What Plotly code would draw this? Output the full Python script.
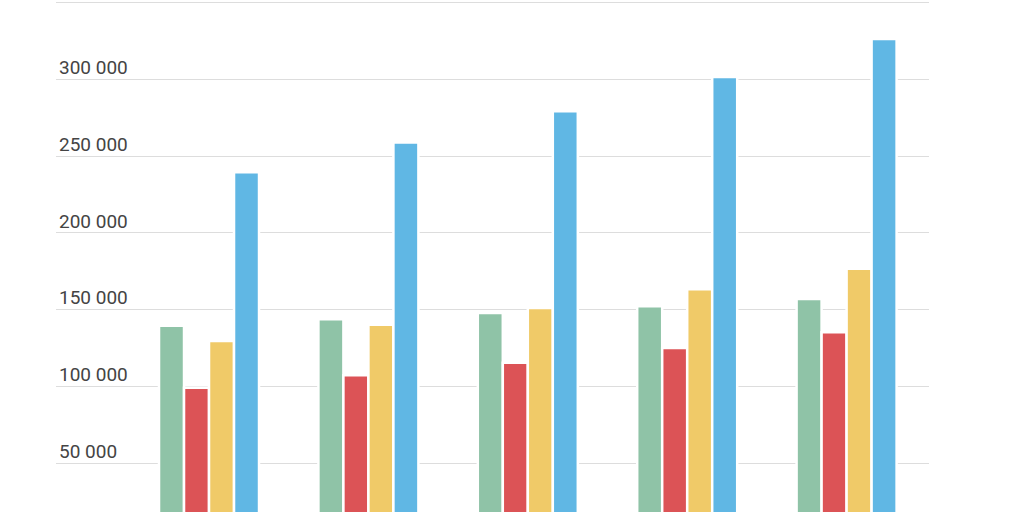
import plotly.graph_objects as go

categories = ["2019", "2020", "2021", "2022", "2023"]
series_a = [139700, 143800, 148000, 152300, 157000]
series_b = [99300, 107400, 115600, 125200, 135400]
series_c = [129700, 140300, 151200, 163400, 176800]
series_d = [239500, 258800, 279200, 301500, 326200]
series_names = ["A", "B", "C", "D"]
colors = ["#8FC3A7", "#DC5356", "#F0CA68", "#60B7E4"]
tick_vals = [50000, 100000, 150000, 200000, 250000, 300000, 350000]
tick_text = ["50 000", "100 000", "150 000", "200 000", "250 000", "300 000", "350 000"]

fig = go.Figure()
for name, vals, col in zip(series_names, [series_a, series_b, series_c, series_d], colors):
    fig.add_trace(go.Bar(
        x=categories, y=vals, name=name,
        marker=dict(color=col, line=dict(color="white", width=2.5)),
    ))

fig.update_layout(
    width=1024, height=512,
    margin=dict(l=56, r=95, t=0, b=0, autoexpand=False),
    barmode="group", bargap=0.3726, bargroupgap=0,
    plot_bgcolor="white", paper_bgcolor="white",
    showlegend=False,
    font=dict(family="Roboto", size=19, color="#4a4a4a"),
    xaxis=dict(
        type="category", range=[-0.96, 4.517], automargin=False,
        showticklabels=False, showgrid=False, zeroline=False, showline=False,
        ticks="",
    ),
    yaxis=dict(
        range=[18480, 351580], automargin=False,
        tickvals=tick_vals, ticktext=tick_text,
        ticklabelposition="inside", ticklabelshift=-12, ticklabelstandoff=0,
        showgrid=True, gridcolor="#dddddd", gridwidth=1,
        zeroline=False, showline=False, ticks="",
    ),
)

fig.write_html(
    "out.html",
    config={"displayModeBar": False, "staticPlot": True},
    post_script="document.body.style.margin='0';document.body.style.padding='0';",
)
